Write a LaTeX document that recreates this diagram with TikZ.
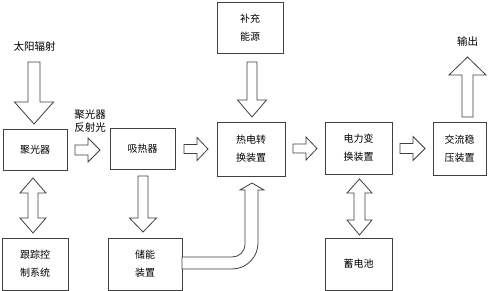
\documentclass[tikz,border=0pt]{standalone}
\usepackage{fontspec}
\setmainfont{Noto Sans CJK SC}
\definecolor{linegray}{gray}{0.25}
\tikzset{
  box/.style={draw=linegray, line width=0.8pt, align=center, inner sep=0pt, font=\fontsize{10}{18}\selectfont},
  lbl/.style={align=center, inner sep=0pt, font=\fontsize{10.5}{13}\selectfont},
  blk/.style={draw=linegray, line width=0.8pt, fill=white, line join=miter}
}
% 竖直空心箭头: x, 起点y, 箭头根部y, 箭尖y, 箭杆半宽, 箭头半宽
\newcommand\vblk[6]{\draw[blk] (#1-#5,#2) -- (#1+#5,#2) -- (#1+#5,#3) -- (#1+#6,#3) -- (#1,#4) -- (#1-#6,#3) -- (#1-#5,#3) -- cycle;}
% 水平空心箭头: y, 起点x, 箭头根部x, 箭尖x, 箭杆半宽, 箭头半宽
\newcommand\hblk[6]{\draw[blk] (#2,#1-#5) -- (#2,#1+#5) -- (#3,#1+#5) -- (#3,#1+#6) -- (#4,#1) -- (#3,#1-#6) -- (#3,#1-#5) -- cycle;}
% 竖直双向空心箭头: x, 上箭尖, 上根部, 下根部, 下箭尖, 箭杆半宽, 箭头半宽
\newcommand\dblk[7]{\draw[blk] (#1,#2) -- (#1+#7,#3) -- (#1+#6,#3) -- (#1+#6,#4) -- (#1+#7,#4) -- (#1,#5) -- (#1-#7,#4) -- (#1-#6,#4) -- (#1-#6,#3) -- (#1-#7,#3) -- cycle;}
\begin{document}
\begin{tikzpicture}[x=1pt, y=-1pt]

  \useasboundingbox (0,0) rectangle (500,291);

  % 方框
  \node[box, minimum width=64pt, minimum height=41pt] (jgq) at (35,149.5) {聚光器};
  \node[box, minimum width=65pt, minimum height=41pt] (xrq) at (142.5,148.5) {吸热器};
  \node[box, minimum width=66pt, minimum height=51pt] (bc) at (250,27.5) {补充\\能源};
  \node[box, minimum width=68pt, minimum height=54pt] (rd) at (251,149) {热电转\\换装置};
  \node[box, minimum width=67pt, minimum height=52pt] (dl) at (358.5,148) {电力变\\换装置};
  \node[box, minimum width=53pt, minimum height=53pt] (jl) at (459.5,148.5) {交流稳\\压装置};
  \node[box, minimum width=66pt, minimum height=52pt] (gz) at (35,264) {跟踪控\\制系统};
  \node[box, minimum width=74pt, minimum height=52pt] (cn) at (145,264) {储能\\装置};
  \node[box, minimum width=67pt, minimum height=52pt] (xdc) at (358.5,264) {蓄电池};

  % 文字标注
  \node[lbl] (sun) at (34.5,47) {太阳辐射};
  \node[lbl] (fsg) at (90,121.5) {聚光器\\反射光};
  \node[lbl] (out) at (467.5,41) {输出};

  % 空心箭头
  \vblk{34}{62}{102}{124}{6}{19.5}
  \hblk{150}{75}{88}{100}{5}{12}
  \hblk{149}{184}{197}{208}{4.5}{11.5}
  \vblk{252}{62}{100}{117}{5}{14.5}
  \hblk{148.5}{293}{306}{317}{4.5}{11.5}
  \hblk{148.5}{400}{413}{425}{5}{12}
  \vblk{467.5}{117}{75}{57}{5.5}{18.5}
  \dblk{33}{178}{193}{218}{233}{5}{13}
  \vblk{143}{176}{218}{232}{5}{13.5}
  \dblk{359.5}{179}{193}{220}{235}{5.5}{12.5}

  % 储能装置到热电转换装置的弯箭头
  \draw[blk] (182,257) -- (232,257) .. controls (239.2,257) and (245,251.8) .. (245,244) -- (245,190)
    -- (240,190) -- (252,183) -- (264,190) -- (258,190) -- (258,243)
    .. controls (258,257.4) and (246.4,269) .. (232,269) -- (182,269) -- cycle;

\end{tikzpicture}
\end{document}
